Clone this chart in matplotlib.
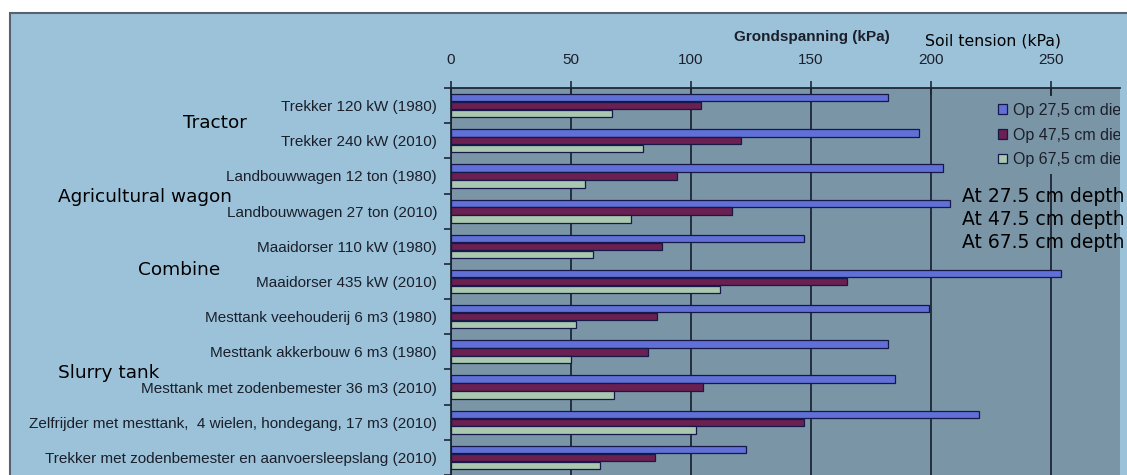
import numpy as np
import matplotlib.pyplot as plt
from matplotlib.patches import Rectangle

# machines (Dutch labels, top to bottom)
machines = [
    "Trekker 120 kW (1980)",
    "Trekker 240 kW (2010)",
    "Landbouwwagen 12 ton (1980)",
    "Landbouwwagen 27 ton (2010)",
    "Maaidorser 110 kW (1980)",
    "Maaidorser 435 kW (2010)",
    "Mesttank veehouderij 6 m3 (1980)",
    "Mesttank akkerbouw 6 m3 (1980)",
    "Mesttank met zodenbemester 36 m3 (2010)",
    "Zelfrijder met mesttank,  4 wielen, hondegang, 17 m3 (2010)",
    "Trekker met zodenbemester en aanvoersleepslang (2010)",
]

# soil tension in kPa at three depths
depth_27 = [182, 195, 205, 208, 147, 254, 199, 182, 185, 220, 123]
depth_47 = [104, 121, 94, 117, 88, 165, 86, 82, 105, 147, 85]
depth_67 = [67, 80, 56, 75, 59, 112, 52, 50, 68, 102, 62]

legend_labels = ["Op 27,5 cm diepte", "Op 47,5 cm diepte", "Op 67,5 cm diepte"]
xticks = [0, 50, 100, 150, 200, 250]

W, H = 1127, 475
fig = plt.figure(figsize=(W / 100, H / 100), dpi=100, facecolor="white")

# light blue chart area with a dark border on the left/top
fig.add_artist(Rectangle((9.5 / W, -0.05), 1.1, (H - 13) / H + 0.05,
                         transform=fig.transFigure, facecolor="#9cc2da",
                         edgecolor="#56636e", lw=1.5, zorder=0))

ax = fig.add_axes([451 / W, 0, 669 / W, 387 / H])
plot_bg = "#7a95a6"
dark = "#1c2636"
txt_col = "#1a1f2a"
ax.set_facecolor(plot_bg)

y = np.arange(len(machines))
h = 0.21
bar_colors = ["#6070d6", "#6a2050", "#a9c8af"]
series = [depth_27, depth_47, depth_67]
offsets = [-0.225, 0, 0.225]
handles = []
for vals, off, col, lab in zip(series, offsets, bar_colors, legend_labels):
    b = ax.barh(y + off, vals, height=h, color=col, edgecolor="#16184a",
                linewidth=0.9, label=lab, zorder=3)
    handles.append(b)

ax.set_xlim(0, 278.75)
ax.set_ylim(10.34, -0.5)

ax.xaxis.tick_top()
ax.set_xticks(xticks)
ax.tick_params(axis="x", direction="inout", length=10, width=1.2, color=dark,
               labelsize=11, labelcolor=txt_col, pad=10)
ax.xaxis.grid(True, color=dark, lw=1.3)
ax.set_axisbelow(True)

ax.set_yticks(y)
ax.set_yticklabels(machines, fontsize=11, color=txt_col)
ax.set_yticks(np.arange(-0.5, len(machines) + 0.5, 1), minor=True)
ax.tick_params(axis="y", which="major", length=0, pad=10)
ax.tick_params(axis="y", which="minor", length=5, width=1.2, color=dark,
               direction="out")

for s in ["right", "bottom"]:
    ax.spines[s].set_visible(False)
for s in ["top", "left"]:
    ax.spines[s].set_color(dark)
    ax.spines[s].set_linewidth(1.3)

# legend sits partly outside the plot, clipped at its right edge like the source
leg = ax.legend(handles=handles, loc="upper left", bbox_to_anchor=(0.8066, 0.980),
                fontsize=11.5, frameon=True, fancybox=False, framealpha=1,
                facecolor=plot_bg, edgecolor="none", handlelength=0.55,
                handleheight=0.55, handletextpad=0.4, labelspacing=0.6,
                borderpad=0.45, borderaxespad=0)
leg.set_zorder(5)
leg.legendPatch.set_clip_box(ax.bbox)
leg.legendPatch.set_clip_on(True)
for t in leg.get_texts():
    t.set_color(txt_col)
    t.set_family("Liberation Sans")
    t.set_clip_box(ax.bbox)
    t.set_clip_on(True)


def px(x, yy):
    return x / W, 1 - yy / H


# titles above the axis
fig.text(*px(812, 37), "Grondspanning (kPa)", ha="center", va="center",
         fontsize=11, fontweight="bold", color=txt_col,
         family="Liberation Sans")
fig.text(*px(925, 41), "Soil tension (kPa)", ha="left", va="center",
         fontsize=11.3, color="black")

# English group labels
for txt, x0, y0 in [("Tractor", 183, 123), ("Agricultural wagon", 58, 197),
                    ("Combine", 138, 270), ("Slurry tank", 58, 373)]:
    fig.text(*px(x0, y0), txt, ha="left", va="center", fontsize=13.3,
             color="black", zorder=10)
for i, d in enumerate(["27.5", "47.5", "67.5"]):
    fig.text(*px(962, 197 + 22.5 * i), f"At {d} cm depth", ha="left",
             va="center", fontsize=13.5, color="black", zorder=10)

for lbl in ax.get_xticklabels() + ax.get_yticklabels():
    lbl.set_family("Liberation Sans")

fig.savefig("out.png", dpi=100, facecolor=fig.get_facecolor())
